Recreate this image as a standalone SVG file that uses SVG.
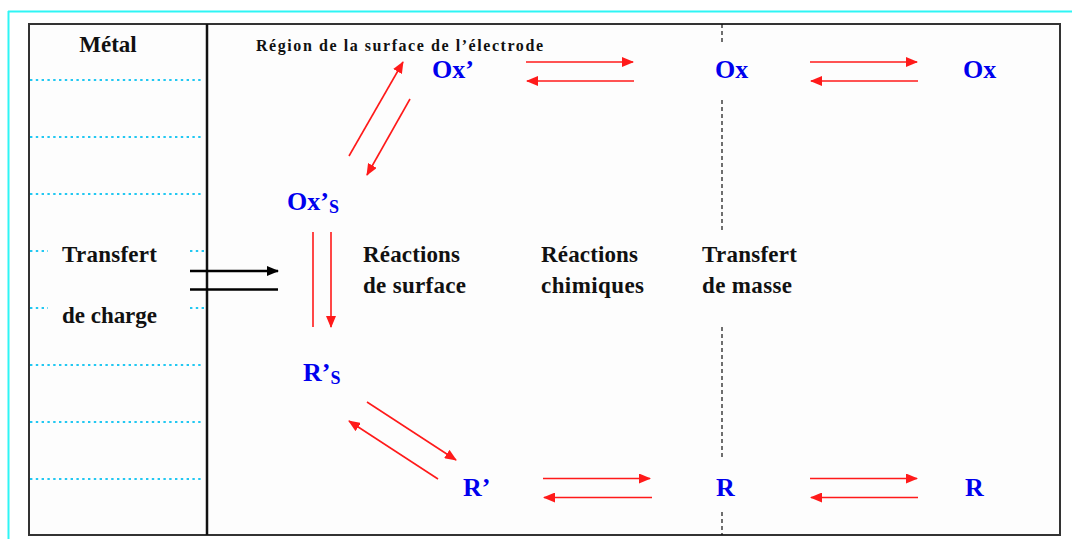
<svg xmlns="http://www.w3.org/2000/svg" width="1072" height="539" viewBox="0 0 1072 539">
<defs>
<style>
.lbl{font-family:"Liberation Serif","Times New Roman",serif;font-weight:bold;fill:#111;font-size:23px}
.sp{font-family:"Liberation Serif","Times New Roman",serif;font-weight:bold;fill:#0000ee;font-size:26px}
.red{stroke:#ff1a1a;stroke-width:1.6;fill:none}
.blk{stroke:#000;stroke-width:2.5;fill:none}
.dot{stroke:#22c8f2;stroke-width:2.2;stroke-dasharray:2.4 3.4;fill:none}
</style>
<marker id="ah" markerUnits="userSpaceOnUse" markerWidth="12" markerHeight="10" refX="11" refY="5" orient="auto">
<path d="M0,0 L12,5 L0,10 z" fill="#ff1a1a"/>
</marker>
<marker id="ahb" markerUnits="userSpaceOnUse" markerWidth="12" markerHeight="10" refX="11" refY="5" orient="auto">
<path d="M0,0 L12,5 L0,10 z" fill="#000"/>
</marker>
</defs>
<rect width="1072" height="539" fill="#fff"/>
<g id="frame">
<path d="M8,11.5 H1072 M8.5,11 V539" stroke="#2ff5f5" stroke-width="2" fill="none"/>
<rect x="29" y="24" width="1031" height="511" fill="#fdfdfd" stroke="#333" stroke-width="2"/>
<line x1="207" y1="24" x2="207" y2="535" stroke="#111" stroke-width="2.5"/>
<g id="metal-dots">
<path class="dot" d="M30,80 H204 M30,137 H204 M30,194 H204 M30,365 H204 M30,422 H204 M30,479 H204 M30,251 H48 M190,251 H204 M30,308 H48 M190,308 H204"/>
</g>
<path d="M722,24 V42 M722,100 V230 M722,327 V458 M722,512 V535" stroke="#111" stroke-width="1.2" stroke-dasharray="4 3" fill="none"/>
</g>
<g id="label-metal"><text class="lbl" x="108" y="52" text-anchor="middle">Métal</text></g>
<g id="label-region"><text class="lbl" x="256" y="51" style="font-size:16px" textLength="287" lengthAdjust="spacing">Région de la surface de l’électrode</text></g>
<g id="label-transfert-charge">
<text class="lbl" x="62" y="262" textLength="95" lengthAdjust="spacing">Transfert</text>
<text class="lbl" x="62" y="323" textLength="95" lengthAdjust="spacing">de charge</text>
</g>
<g id="label-reactions-surface">
<text class="lbl" x="363" y="262" textLength="97" lengthAdjust="spacing">Réactions</text>
<text class="lbl" x="363" y="293" textLength="103" lengthAdjust="spacing">de surface</text>
</g>
<g id="label-reactions-chimiques">
<text class="lbl" x="541" y="262" textLength="97" lengthAdjust="spacing">Réactions</text>
<text class="lbl" x="541" y="293" textLength="103" lengthAdjust="spacing">chimiques</text>
</g>
<g id="label-transfert-masse">
<text class="lbl" x="702" y="262" textLength="95" lengthAdjust="spacing">Transfert</text>
<text class="lbl" x="702" y="293" textLength="90" lengthAdjust="spacing">de masse</text>
</g>
<g id="node-oxp"><text class="sp" x="432" y="78">Ox’</text></g>
<g id="node-ox1"><text class="sp" x="715" y="78">Ox</text></g>
<g id="node-ox2"><text class="sp" x="963" y="78">Ox</text></g>
<g id="node-oxps"><text class="sp" x="287" y="210">Ox’<tspan style="font-size:18px" dy="3">S</tspan></text></g>
<g id="node-rps"><text class="sp" x="303" y="381">R’<tspan style="font-size:18px" dy="3">S</tspan></text></g>
<g id="node-rp"><text class="sp" x="463" y="496">R’</text></g>
<g id="node-r1"><text class="sp" x="716" y="496">R</text></g>
<g id="node-r2"><text class="sp" x="965" y="496">R</text></g>
<g id="connectors">
<line class="red" x1="526" y1="62" x2="633" y2="62" marker-end="url(#ah)"/>
<line class="red" x1="634" y1="81" x2="527" y2="81" marker-end="url(#ah)"/>
<line class="red" x1="810" y1="62" x2="917" y2="62" marker-end="url(#ah)"/>
<line class="red" x1="918" y1="81" x2="811" y2="81" marker-end="url(#ah)"/>
<line class="red" x1="543" y1="478.5" x2="650" y2="478.5" marker-end="url(#ah)"/>
<line class="red" x1="652" y1="497.5" x2="544" y2="497.5" marker-end="url(#ah)"/>
<line class="red" x1="810" y1="478.5" x2="917" y2="478.5" marker-end="url(#ah)"/>
<line class="red" x1="918" y1="497.5" x2="811" y2="497.5" marker-end="url(#ah)"/>
<line class="red" x1="349" y1="156" x2="403" y2="62" marker-end="url(#ah)"/>
<line class="red" x1="410" y1="99" x2="367" y2="175" marker-end="url(#ah)"/>
<line class="red" x1="313" y1="232" x2="313" y2="327"/>
<line class="red" x1="331" y1="232" x2="331" y2="327" marker-end="url(#ah)"/>
<line class="red" x1="367" y1="402" x2="456" y2="460" marker-end="url(#ah)"/>
<line class="red" x1="438" y1="479" x2="349" y2="421" marker-end="url(#ah)"/>
<line class="blk" x1="190" y1="271" x2="278" y2="271" marker-end="url(#ahb)"/>
<line class="blk" x1="190" y1="289.5" x2="278" y2="289.5"/>
</g>
</svg>
